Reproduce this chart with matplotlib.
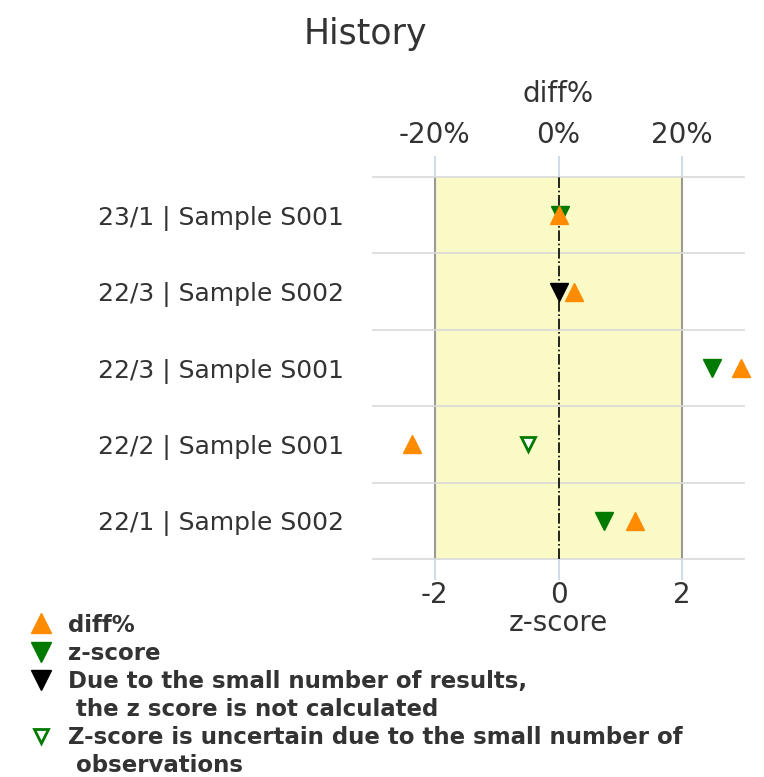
import matplotlib.pyplot as plt
from matplotlib.lines import Line2D

# data, top row first
samples = ['23/1 | Sample S001', '22/3 | Sample S002', '22/3 | Sample S001',
           '22/2 | Sample S001', '22/1 | Sample S002']
diff_pct = [0.0, 2.5, 29.5, -23.7, 12.3]
z_score = [0.03, 0.0, 2.49, -0.49, 0.74]
# 'ok' = normal z-score, 'nocalc' = not calculated, 'uncertain' = few observations
z_status = ['ok', 'nocalc', 'ok', 'uncertain', 'ok']

ORANGE = '#ff8c00'
GREEN = '#007a00'
GRID = '#d9d9d9'
TICKC = '#c6d6e6'
TXT = '#333333'

fig = plt.figure(figsize=(7.64, 7.77), dpi=100)
ax = fig.add_axes([373 / 764, 1 - 559 / 777, 371 / 764, 382 / 777])

n = len(samples)
ypos = [n - 0.5 - i for i in range(n)]

# acceptable band
ax.axvspan(-2, 2, color='#fafac6', zorder=0)
ax.axvline(-2, color='#9a9a9a', lw=1.5, zorder=1)
ax.axvline(2, color='#9a9a9a', lw=1.5, zorder=1)
for k in range(n + 1):
    ax.axhline(k, color=GRID, lw=1.2, zorder=1, clip_on=False)
ax.axvline(0, color='black', lw=1.2, ls='-.', zorder=2)

# diff% markers (converted to z units: 10% = 1)
ax.plot([d / 10 for d in diff_pct], ypos, ls='none', marker='^', ms=13,
        color=ORANGE, zorder=4, clip_on=False)

for z, y, st in zip(z_score, ypos, z_status):
    if st == 'ok':
        ax.plot(z, y, ls='none', marker='v', ms=13, color=GREEN, zorder=3)
    elif st == 'nocalc':
        ax.plot(z, y, ls='none', marker='v', ms=13, color='black', zorder=3)
    else:
        ax.plot(z, y, ls='none', marker='v', ms=10, mfc='white', mec=GREEN,
                mew=2, zorder=3)

ax.set_xlim(-3, 3)
ax.set_ylim(0, n)
ax.set_yticks(ypos)
ax.set_yticklabels(samples, fontsize=18, color=TXT)
ax.tick_params(axis='y', length=0, pad=21)
ax.set_xticks([-2, 0, 2])
ax.set_xticklabels(['-2', '0', '2'], fontsize=20, color=TXT)
ax.tick_params(axis='x', length=15, color=TICKC, width=1.2, pad=1)
ax.set_xlabel('z-score', fontsize=20, color=TXT, labelpad=0)
for s in ax.spines.values():
    s.set_visible(False)

top = ax.secondary_xaxis('top', functions=(lambda z: z * 10, lambda d: d / 10))
top.set_xticks([-20, 0, 20])
top.set_xticklabels(['-20%', '0%', '20%'], fontsize=20, color=TXT)
top.tick_params(length=15, color=TICKC, width=1.2, pad=5)
top.set_xlabel('diff%', fontsize=20, color=TXT, labelpad=14)
for s in top.spines.values():
    s.set_visible(False)

fig.text(365 / 764, 1 - 34 / 777, 'History', fontsize=25, color=TXT,
         ha='center', va='center')

# legend
handles = [
    Line2D([], [], ls='none', marker='^', ms=14, color=ORANGE),
    Line2D([], [], ls='none', marker='v', ms=14, color=GREEN),
    Line2D([], [], ls='none', marker='v', ms=14, color='black'),
    Line2D([], [], ls='none'),
    Line2D([], [], ls='none', marker='v', ms=10, mfc='white', mec=GREEN, mew=2),
    Line2D([], [], ls='none'),
]
labels = ['diff%', 'z-score', 'Due to the small number of results,',
          ' the z score is not calculated',
          'Z-score is uncertain due to the small number of', ' observations']
leg = fig.legend(handles, labels, loc='lower left',
                 bbox_to_anchor=(27 / 764, -2 / 777),
                 frameon=False, handlelength=1.0, handletextpad=0.68,
                 labelspacing=0.22, borderaxespad=0, borderpad=0.1,
                 prop={'weight': 'bold', 'size': 16.5})
for t in leg.get_texts():
    t.set_color(TXT)

plt.savefig('out.png', dpi=100)
